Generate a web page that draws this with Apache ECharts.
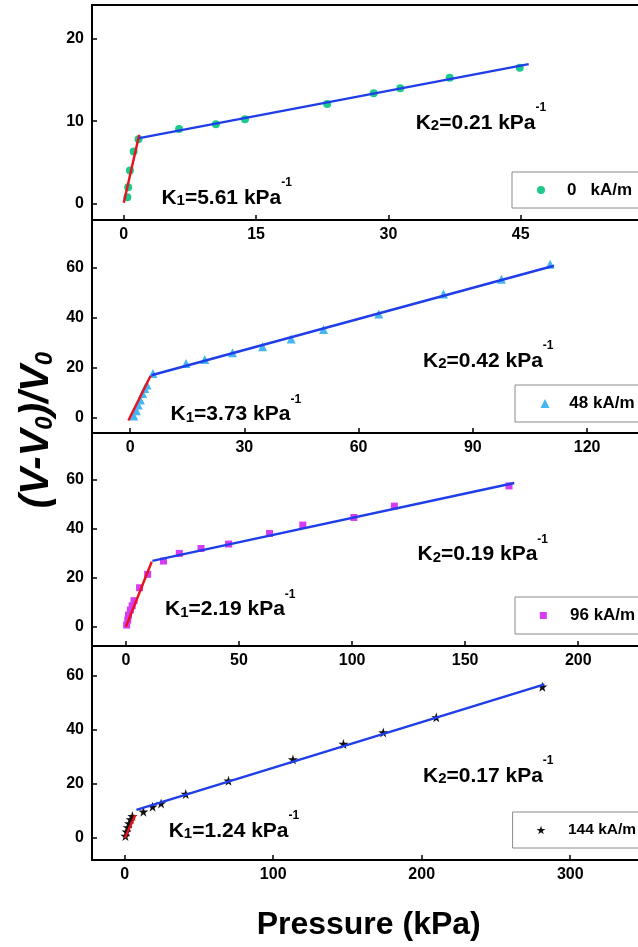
<!DOCTYPE html>
<html>
<head>
<meta charset="utf-8">
<script src="https://cdn.jsdelivr.net/npm/echarts@6/dist/echarts.min.js"></script>
<style>
  html, body { margin: 0; padding: 0; background: #fff; overflow: hidden; }
  #main { width: 700px; height: 947px; }
</style>
</head>
<body>
<div id="main"></div>
<script>
// field strength of each panel
const names = ['0   kA/m', '48 kA/m', '96 kA/m', '144 kA/m'];

// pressure (kPa) and (V-V0)/V0
const press0 = [0.41, 0.50, 0.70, 1.12, 1.67, 6.27, 10.44, 13.74, 23.06, 28.33, 31.34, 36.94, 44.88];
const strain0 = [0.73, 1.95, 3.98, 6.30, 7.80, 9.06, 9.63, 10.24, 12.10, 13.40, 14.00, 15.30, 16.50];
const press48 = [0.97, 1.65, 2.13, 2.71, 3.29, 3.87, 4.45, 6.0, 14.7, 19.6, 26.9, 34.8, 42.3, 50.8, 65.3, 82.3, 97.5, 110.3];
const strain48 = [0.68, 2.8, 5.1, 7.1, 9.7, 11.7, 13.1, 17.7, 21.7, 23.3, 26.0, 28.4, 31.5, 35.3, 41.5, 49.5, 55.4, 61.4];
const press96 = [0.33, 0.81, 1.14, 1.95, 2.77, 3.58, 6.03, 9.6, 16.6, 23.6, 33.2, 45.4, 63.5, 78.2, 100.8, 118.7, 169.4];
const strain96 = [0.8, 2.84, 4.87, 6.9, 8.65, 10.7, 15.96, 21.4, 26.8, 29.9, 31.9, 33.7, 38.0, 41.4, 44.5, 49.1, 57.3];
const press144 = [0.5, 1.24, 1.98, 2.97, 3.96, 5.2, 12.6, 18.8, 24.5, 41.1, 69.9, 113.3, 147.3, 174.1, 209.8, 281.2];
const strain144 = [0.74, 2.35, 3.95, 5.4, 6.9, 8.1, 9.75, 11.6, 12.8, 16.3, 21.2, 29.1, 34.8, 39.1, 44.7, 56.0];

// fitted segments (low pressure K1 in red, high pressure K2 in blue)
const lowFit0 = [[0, 0.07], [1.75, 8.33]];
const highFit0 = [[1.75, 7.93], [45.9, 16.95]];
const lowFit48 = [[-0.45, -1.1], [5.4, 16.8]];
const highFit48 = [[5.6, 17.0], [111.3, 60.8]];
const lowFit96 = [[0, 0.1], [11.4, 26.5]];
const highFit96 = [[11.7, 26.9], [171.7, 58.5]];
const lowFit144 = [[0.1, 0], [7.2, 8.5]];
const highFit144 = [[7.9, 10.4], [282.6, 56.9]];

const k1Values = ['5.61', '3.73', '2.19', '1.24'];
const k2Values = ['0.21', '0.42', '0.19', '0.17'];

// tick labels
const xTicks = [[0, 15, 30, 45], [0, 30, 60, 90, 120], [0, 50, 100, 150, 200], [0, 100, 200, 300]];
const yTicks = [[0, 10, 20], [0, 20, 40, 60], [0, 20, 40, 60], [0, 20, 40, 60]];

const pressList = [press0, press48, press96, press144];
const strainList = [strain0, strain48, strain96, strain144];
const lowFits = [lowFit0, lowFit48, lowFit96, lowFit144];
const highFits = [highFit0, highFit48, highFit96, highFit144];

// layout
const gridTop = [5, 220, 433, 646];
const gridHeight = [215, 213, 213, 214];
const xMin = [-3.6, -10, -15, -22];
const xMax = [63.05, 144.4, 245, 373.9];
const yMin = [-2.04, -6.1, -7.7, -8.15];
const yMax = [24.15, 79.1, 78.8, 71.1];

const colors = ['#1dca8b', '#45b5f3', '#d63cf2', '#111111'];
const symbols = ['circle', 'triangle', 'rect',
  'path://M50,0 L61,35 L98,35 L68,57 L79,91 L50,70 L21,91 L32,57 L2,35 L39,35 Z'];
const symbolSizes = [8, 9, 7, 10];

const legendPos = [
  { left: 512, top: 172, w: 8, pl: 25, tp: 17, fs: 17, ph: 9.5 },
  { left: 515, top: 385, w: 9, pl: 25.5, tp: 14.8, fs: 17, ph: 10 },
  { left: 515, top: 597, w: 7, pl: 24.8, tp: 18.2, fs: 17, ph: 10 },
  { left: 512.6, top: 812, w: 9, pl: 23.9, tp: 17.5, fs: 15.5, ph: 10 }
];
const k2Pos = [[415.7, 101.5], [423, 339.8], [417.5, 533.2], [423, 754.8]];
const k1Pos = [[161.4, 176.5], [170.6, 393.2], [165, 588.2], [168.7, 809.8]];

const font = 'Liberation Sans, Arial, sans-serif';

const dom = document.getElementById('main');
const myChart = echarts.init(dom);

const grids = gridTop.map((t, i) => ({
  left: 92,
  top: t,
  width: 588,
  height: gridHeight[i],
  show: true,
  borderColor: '#000',
  borderWidth: 2,
  backgroundColor: 'transparent'
}));

const xAxes = xTicks.map((ticks, i) => ({
  type: 'value',
  gridIndex: i,
  min: xMin[i],
  max: xMax[i],
  axisLine: { show: true, onZero: false, lineStyle: { color: '#000', width: 2 } },
  axisTick: { show: true, inside: true, length: 5, customValues: ticks, lineStyle: { color: '#000', width: 1.5 } },
  axisLabel: { customValues: ticks, margin: 7, color: '#000', fontSize: 16, fontWeight: 'bold', fontFamily: font },
  splitLine: { show: false }
}));

const yAxes = yTicks.map((ticks, i) => ({
  type: 'value',
  gridIndex: i,
  min: yMin[i],
  max: yMax[i],
  axisLine: { show: true, onZero: false, lineStyle: { color: '#000', width: 2 } },
  axisTick: { show: true, inside: true, length: 5, customValues: ticks, lineStyle: { color: '#000', width: 1.5 } },
  axisLabel: { customValues: ticks, margin: 8, color: '#000', fontSize: 16, fontWeight: 'bold', fontFamily: font },
  splitLine: { show: false }
}));

let series = [];
names.forEach((name, i) => {
  series.push({
    type: 'scatter',
    name: name,
    xAxisIndex: i,
    yAxisIndex: i,
    symbol: symbols[i],
    symbolSize: symbolSizes[i],
    itemStyle: { color: colors[i], opacity: 1 },
    data: pressList[i].map((p, j) => [p, strainList[i][j]]),
    z: 2
  });
  series.push({
    type: 'line',
    xAxisIndex: i,
    yAxisIndex: i,
    symbol: 'none',
    lineStyle: { color: '#e8121c', width: 2.4 },
    data: lowFits[i],
    z: 3
  });
  series.push({
    type: 'line',
    xAxisIndex: i,
    yAxisIndex: i,
    symbol: 'none',
    lineStyle: { color: '#1f3de8', width: 2.4 },
    data: highFits[i],
    z: 3
  });
});

const legends = names.map((name, i) => {
  const p = legendPos[i];
  return {
    data: [{ name: name, icon: symbols[i] }],
    left: p.left,
    top: p.top,
    itemWidth: p.w,
    itemHeight: p.w,
    padding: [p.ph, 100, p.ph, p.pl],
    borderColor: '#8a8a8a',
    borderWidth: 1,
    backgroundColor: '#fff',
    selectedMode: false,
    textStyle: { fontSize: p.fs, fontWeight: 'bold', color: '#000', fontFamily: font, padding: [0, 0, 0, p.tp] }
  };
});

const kRich = {
  k: { fontSize: 21, fontWeight: 'bold', fontFamily: font, color: '#000', lineHeight: 32, verticalAlign: 'bottom' },
  s: { fontSize: 15, fontWeight: 'bold', fontFamily: font, color: '#000', lineHeight: 28, verticalAlign: 'bottom' },
  p: { fontSize: 12, fontWeight: 'bold', fontFamily: font, color: '#000', lineHeight: 4, verticalAlign: 'top' }
};

let graphics = [];
names.forEach((n, i) => {
  graphics.push({
    type: 'text', x: k2Pos[i][0], y: k2Pos[i][1], z: 10,
    style: { text: `{k|K}{s|2}{k|=${k2Values[i]} kPa}{p|-1}`, rich: kRich, align: 'left', verticalAlign: 'top' }
  });
  graphics.push({
    type: 'text', x: k1Pos[i][0], y: k1Pos[i][1], z: 10,
    style: { text: `{k|K}{s|1}{k|=${k1Values[i]} kPa}{p|-1}`, rich: kRich, align: 'left', verticalAlign: 'top' }
  });
});
graphics.push({
  type: 'text', x: 35, y: 430, rotation: Math.PI / 2, z: 10,
  style: {
    text: '{v|(V-V}{s|0}{v|)/V}{s|0}',
    align: 'center',
    verticalAlign: 'middle',
    rich: {
      v: { fontSize: 40, fontWeight: 'bold', fontStyle: 'italic', fontFamily: font, color: '#000', lineHeight: 44, verticalAlign: 'bottom' },
      s: { fontSize: 24, fontWeight: 'bold', fontStyle: 'italic', fontFamily: font, color: '#000', lineHeight: 24, verticalAlign: 'bottom' }
    }
  }
});
graphics.push({
  type: 'text', x: 368.7, y: 925, z: 10,
  style: { text: 'Pressure (kPa)', fontSize: 32, fontWeight: 'bold', fontFamily: font, fill: '#000', align: 'center', verticalAlign: 'middle' }
});

const option = {
  animation: false,
  backgroundColor: '#fff',
  grid: grids,
  xAxis: xAxes,
  yAxis: yAxes,
  legend: legends,
  series: series,
  graphic: graphics
};
myChart.setOption(option, true);
</script>
</body>
</html>
